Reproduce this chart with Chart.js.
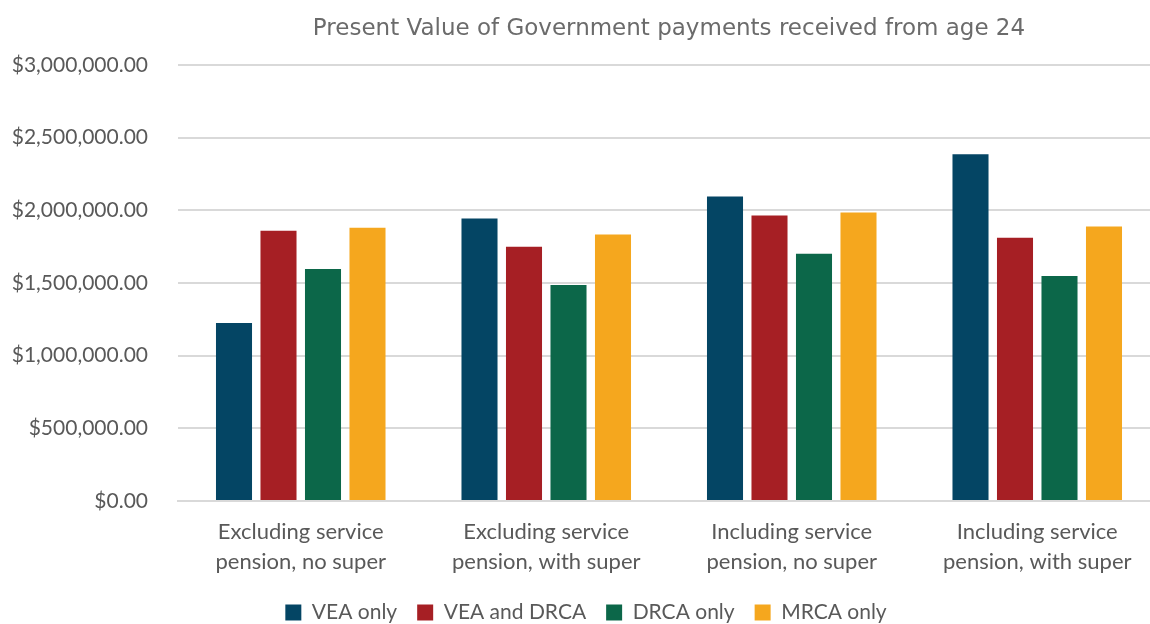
<!DOCTYPE html>
<html>
<head>
<meta charset="utf-8">
<script src="https://cdn.jsdelivr.net/npm/chart.js@4/dist/chart.umd.min.js"></script>
<style>
  html, body { margin: 0; padding: 0; background: #fff; overflow: hidden; }
  #wrap { width: 1160px; height: 624px; }
</style>
</head>
<body>
<div id="wrap"><canvas id="chartPV"></canvas></div>
<script>
// 데이터
const categories = [
  ['Excluding service', 'pension, no super'],
  ['Excluding service', 'pension, with super'],
  ['Including service', 'pension, no super'],
  ['Including service', 'pension, with super']
];
const seriesNames = ['VEA only', 'VEA and DRCA', 'DRCA only', 'MRCA only'];
const veaOnly = [1224000, 1943000, 2095000, 2386000];
const veaAndDrca = [1860000, 1750000, 1964000, 1812000];
const drcaOnly = [1597000, 1487000, 1701000, 1549000];
const mrcaOnly = [1881000, 1833000, 1985000, 1888000];
const seriesColors = ['#044564', '#A61F24', '#0C6749', '#F5A71E'];
const titleText = 'Present Value of Government payments received from age 24';

// 제목: 플롯 영역 가운데에 그림
const plotTitle = {
  id: 'plotTitle',
  afterDraw(chart) {
    const { ctx, chartArea } = chart;
    ctx.save();
    ctx.font = '23px "DejaVu Sans"';
    ctx.fillStyle = '#6b6b6b';
    ctx.textAlign = 'center';
    ctx.textBaseline = 'alphabetic';
    ctx.fillText(titleText, (chartArea.left + chartArea.right) / 2, 35);
    ctx.restore();
  }
};

const allSeries = [veaOnly, veaAndDrca, drcaOnly, mrcaOnly];

new Chart(document.getElementById('chartPV'), {
  type: 'bar',
  data: {
    labels: categories,
    datasets: allSeries.map((vals, i) => ({
      label: seriesNames[i],
      data: vals,
      backgroundColor: seriesColors[i],
      borderWidth: 0,
      categoryPercentage: 0.725,
      barPercentage: 0.81
    }))
  },
  options: {
    responsive: true,
    maintainAspectRatio: false,
    animation: false,
    layout: { padding: { top: 65, left: 12, right: 0, bottom: -9 } },
    plugins: {
      title: { display: false },
      tooltip: { enabled: false },
      legend: {
        display: true,
        position: 'bottom',
        labels: {
          boxWidth: 16,
          boxHeight: 16,
          padding: 20,
          color: '#595959',
          font: { family: 'Lato', size: 21 }
        }
      }
    },
    scales: {
      x: {
        grid: { display: false },
        border: { display: true, color: '#d9d9d9', width: 2 },
        afterFit: axis => { axis.height = 81; },
        ticks: {
          color: '#595959',
          font: { family: 'Lato', size: 22, lineHeight: 1.36 },
          padding: 8,
          maxRotation: 0
        }
      },
      y: {
        min: 0,
        max: 3000000,
        border: { display: false },
        grid: { color: '#d9d9d9', lineWidth: 2, drawTicks: false },
        afterFit: axis => { axis.width = 166; },
        ticks: {
          stepSize: 500000,
          padding: 30,
          color: '#595959',
          font: { family: 'Lato', size: 21 },
          callback: v => '$' + Number(v).toLocaleString('en-US', { minimumFractionDigits: 2, maximumFractionDigits: 2 })
        }
      }
    }
  },
  plugins: [plotTitle]
});
</script>
</body>
</html>
